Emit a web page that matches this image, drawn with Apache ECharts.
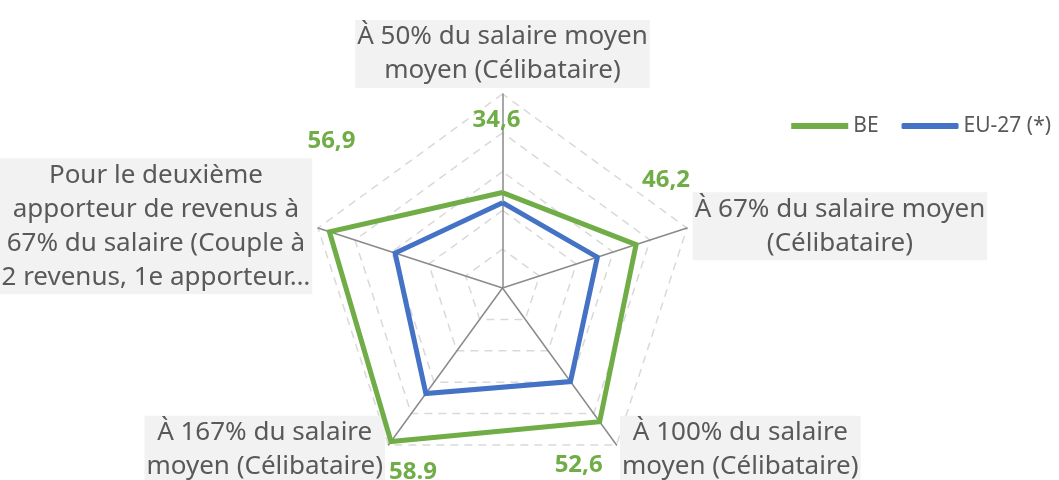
<!DOCTYPE html>
<html style="height: 100%" lang="fr">
<head>
    <meta charset="UTF-8">
    <title>Radar</title>
</head>
<body style="height: 100%; margin: 0; background: #fff">
<div id="main" style="width: 1059px; height: 480px"></div>

<script src="https://cdn.jsdelivr.net/npm/echarts@6/dist/echarts.min.js"></script>
<script type="text/javascript">

    // axes in the order of the original chart (clockwise from the top)
    var axisNames = [
        'À 50% du salaire moyen\nmoyen (Célibataire)',
        'À 67% du salaire moyen\n(Célibataire)',
        'À 100% du salaire\nmoyen (Célibataire)',
        'À 167% du salaire\nmoyen (Célibataire)',
        'Pour le deuxième\napporteur de revenus à\n67% du salaire (Couple à\n2 revenus, 1e apporteur…'
    ];
    var beValues = [34.6, 46.2, 52.6, 58.9, 56.9];
    var euValues = [32.0, 35.7, 39.8, 43.6, 39.1];
    var beLabels = ['34,6', '46,2', '52,6', '58.9', '56,9'];
    var axisMin = 10;
    var axisMax = 60;

    // label offsets from each vertex
    var labelShift = [[-6, -72], [30, -64], [-21, 43], [22, 31], [2, -91]];

    // echarts goes counter-clockwise, so reorder
    var order = [0, 4, 3, 2, 1];
    function pick(arr) {
        return order.map(function (i) { return arr[i]; });
    }

    var myChart = echarts.init(document.getElementById('main'));

    var option = {
        backgroundColor: '#ffffff',
        animation: false,
        legend: {
            right: 3,
            top: 109,
            itemWidth: 57,
            itemHeight: 6,
            itemGap: 23,
            textStyle: {
                color: '#595959',
                fontSize: 21,
                lineHeight: 24,
                fontFamily: 'Noto Sans'
            },
            data: [
                {name: 'BE', icon: 'rect'},
                {name: 'EU-27 (*)', icon: 'roundRect'}
            ]
        },
        radar: {
            center: ['47.45%', '60%'],
            radius: 194,
            startAngle: 90,
            splitNumber: 5,
            nameGap: 6,
            indicator: pick(axisNames).map(function (n) {
                return {name: n, min: axisMin, max: axisMax};
            }),
            axisName: {
                color: '#595959',
                fontFamily: 'Noto Sans',
                fontSize: 26,
                lineHeight: 34,
                backgroundColor: '#f2f2f2',
                padding: [0, 2],
                formatter: function (name) {
                    return name.split('\n').map(function (l) {
                        return '{c|' + l + '}';
                    }).join('\n');
                },
                rich: {
                    c: {
                        align: 'center',
                        color: '#595959',
                        fontFamily: 'Noto Sans',
                        fontSize: 26,
                        lineHeight: 34
                    }
                }
            },
            axisLine: {
                lineStyle: {color: '#8a8a8a', width: 1.5}
            },
            splitLine: {
                lineStyle: {color: '#d9d9d9', width: 1.5, type: [8, 6]}
            },
            splitArea: {show: false},
            axisLabel: {show: false},
            axisTick: {show: false}
        },
        series: [
            {
                type: 'radar',
                labelLayout: function (p) {
                    var i = beLabels.indexOf(p.text);
                    if (i < 0) return {};
                    return {dx: labelShift[i][0], dy: labelShift[i][1]};
                },
                data: [
                    {
                        name: 'BE',
                        value: pick(beValues),
                        symbol: 'circle',
                        symbolSize: 1,
                        itemStyle: {color: '#70ad47'},
                        lineStyle: {color: '#70ad47', width: 5, join: 'miter'},
                        label: {
                            show: true,
                            position: 'inside',
                            color: '#70ad47',
                            fontWeight: 'bold',
                            fontSize: 24,
                            fontFamily: 'Noto Sans',
                            formatter: function (p) {
                                return beLabels[beValues.indexOf(p.value)];
                            }
                        }
                    },
                    {
                        name: 'EU-27 (*)',
                        value: pick(euValues),
                        symbol: 'none',
                        itemStyle: {color: '#4472c4'},
                        lineStyle: {color: '#4472c4', width: 5, join: 'miter'}
                    }
                ]
            }
        ]
    };

    myChart.setOption(option);

</script>
</body>
</html>
